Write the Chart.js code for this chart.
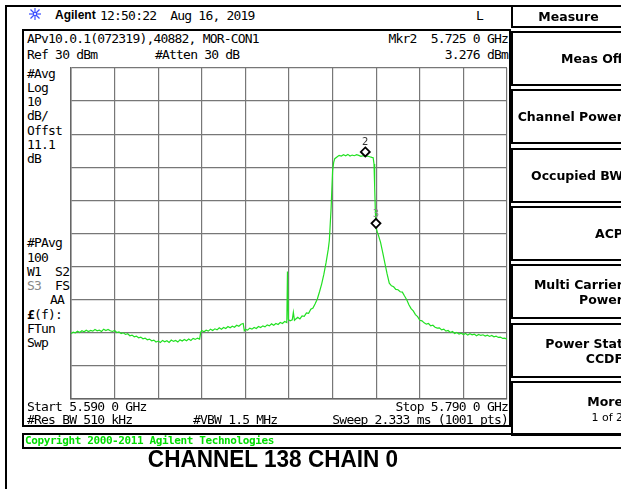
<!DOCTYPE html>
<html>
<head>
<meta charset="utf-8">
<script src="https://cdn.jsdelivr.net/npm/chart.js@4.4.0/dist/chart.umd.min.js"></script>
<style>
html, body { margin: 0; padding: 0; background: #fff; }
body { width: 621px; height: 489px; position: relative; overflow: hidden; }
.t { position: absolute; font-family: "DejaVu Sans Mono", monospace; font-size: 13px; letter-spacing: -0.8px;
     line-height: 14px; color: #000; white-space: pre; }
.r { text-align: right; }
.box { position: absolute; border: 2px solid #000; box-sizing: border-box; }
.key { position: absolute; left: 511px; width: 112px; text-align: right; font-family: "DejaVu Sans", sans-serif;
       font-weight: bold; font-size: 12.5px; line-height: 15px; white-space: pre; }
#plot { position: absolute; left: 69px; top: 66px; }
</style>
</head>
<body>

<!-- frame lines -->
<div style="position:absolute;left:5px;top:5px;width:2px;height:484px;background:#000"></div>
<div style="position:absolute;left:5px;top:5px;width:506px;height:2px;background:#000"></div>

<!-- header -->
<svg style="position:absolute;left:27px;top:7px" width="16" height="14" viewBox="0 0 16 14">
  <g stroke="#3a4dff" stroke-width="1.2">
    <line x1="8" y1="1" x2="8" y2="13"/><line x1="2" y1="7" x2="14" y2="7"/>
    <line x1="3.5" y1="2.5" x2="12.5" y2="11.5"/><line x1="12.5" y1="2.5" x2="3.5" y2="11.5"/>
  </g>
  <circle cx="8" cy="7" r="1.6" fill="#fff" stroke="#3a4dff"/>
</svg>
<div style="position:absolute;left:55px;top:8px;font:bold 12px 'Liberation Sans',Arial,sans-serif;line-height:14px">Agilent</div>
<div class="t" style="left:100px;top:9px">12:50:22  Aug 16, 2019</div>
<div class="t" style="left:476px;top:9px">L</div>

<!-- screen box -->
<div class="box" style="left:22px;top:29px;width:489px;height:398px"></div>
<div class="t" style="left:27px;top:32px">APv10.0.1(072319),40882, MOR-CON1</div>
<div class="t" style="left:27px;top:48px">Ref 30 dBm</div>
<div class="t" style="left:155px;top:48px">#Atten 30 dB</div>
<div class="t r" style="left:300px;width:208px;top:32px">Mkr2  5.725 0 GHz</div>
<div class="t r" style="left:300px;width:208px;top:48px">3.276 dBm</div>

<div class="t" style="left:27px;top:67px">#Avg</div>
<div class="t" style="left:27px;top:81px">Log</div>
<div class="t" style="left:27px;top:95px">10</div>
<div class="t" style="left:27px;top:109px">dB/</div>
<div class="t" style="left:27px;top:124px">Offst</div>
<div class="t" style="left:27px;top:138px">11.1</div>
<div class="t" style="left:27px;top:152px">dB</div>

<div class="t" style="left:27px;top:236px">#PAvg</div>
<div class="t" style="left:27px;top:251px">100</div>
<div class="t" style="left:27px;top:265px">W1  S2</div>
<div class="t" style="left:27px;top:279px"><span style="color:#888">S3</span>  FS</div>
<div class="t r" style="left:27px;width:37px;top:293px">AA</div>
<div class="t" style="left:27px;top:308px"><b>£</b>(f):</div>
<div class="t" style="left:27px;top:322px">FTun</div>
<div class="t" style="left:27px;top:336px">Swp</div>

<canvas id="plot" width="440" height="335"></canvas>

<div class="t" style="left:27px;top:400px">Start 5.590 0 GHz</div>
<div class="t r" style="left:300px;width:208px;top:400px">Stop 5.790 0 GHz</div>
<div class="t" style="left:27px;top:413px">#Res BW 510 kHz</div>
<div class="t" style="left:193px;top:413px">#VBW 1.5 MHz</div>
<div class="t r" style="left:300px;width:208px;top:413px">Sweep 2.333 ms (1001 pts)</div>

<!-- copyright bar -->
<div class="box" style="left:22px;top:433px;width:620px;height:16px"></div>
<div class="t" style="left:25px;top:434px;font-weight:bold;font-size:11px;letter-spacing:-0.4px;color:#00dd00">Copyright 2000-2011 Agilent Technologies</div>

<div style="position:absolute;left:0;width:546px;top:445px;text-align:center;font:bold 24px 'Liberation Sans',Arial,sans-serif;line-height:28px;transform:scaleX(0.94)">CHANNEL 138 CHAIN 0</div>

<!-- soft keys -->
<div class="box" style="left:511px;top:5px;width:120px;height:23px"></div>
<div class="key" style="text-align:center;width:115px;top:9px">Measure</div>
<div id="keys"></div>

<script>
// sweep settings
const startMHz = 5590;
const stopMHz = 5790;
const mhzPerDiv = 20;
const refLevel = 30;
const dbPerDiv = 10;
const divisions = 10;

// trace (MHz, dBm)
const freqMHz = [
  5590, 5591, 5592, 5593, 5594, 5595, 5596, 5597, 5598, 5599, 5600, 5601, 5602, 5603, 5604,
  5605, 5606, 5607, 5608, 5609, 5610, 5611, 5612, 5613, 5614, 5615, 5616, 5617, 5618, 5619,
  5620, 5621, 5622, 5623, 5624, 5625, 5626, 5627, 5628, 5629, 5630, 5631, 5632, 5633, 5634,
  5635, 5636, 5637, 5638, 5639, 5640, 5641, 5642, 5643, 5644, 5645, 5646, 5647, 5648, 5649,
  5649.5, 5650, 5651, 5652, 5653, 5654, 5655, 5656, 5657, 5658, 5659, 5660, 5661, 5662, 5663,
  5664, 5665, 5666, 5667, 5668, 5669,
  5669.5, 5670, 5671, 5672, 5673, 5674, 5675, 5676, 5677, 5678, 5679, 5680, 5681, 5682, 5683,
  5684, 5685, 5686, 5687, 5688, 5689,
  5689.3, 5689.7, 5690.5, 5691.5, 5692, 5692.5, 5693, 5694, 5695, 5696, 5697, 5698, 5699, 5700,
  5701, 5702, 5703, 5704, 5705, 5706, 5707, 5708, 5708.5, 5709.3, 5710, 5710.5, 5711,
  5712, 5713, 5714, 5715, 5716, 5717, 5718, 5719, 5720, 5721, 5722, 5723, 5724, 5725, 5726, 5727, 5728,
  5728.6, 5729, 5729.3, 5729.6, 5729.9,
  5730.5, 5731, 5732, 5733, 5734, 5735, 5736, 5737, 5738, 5739, 5740, 5741, 5742, 5743, 5744, 5745,
  5746, 5747, 5748, 5749, 5750, 5751,
  5752, 5753, 5754, 5755, 5756, 5757, 5758, 5759, 5760, 5761, 5762, 5763, 5764, 5765, 5766,
  5767, 5768, 5769, 5770, 5771, 5772, 5773, 5774, 5775, 5776, 5777, 5778, 5779, 5780, 5781,
  5782, 5783, 5784, 5785, 5786, 5787, 5788, 5789, 5790
];
const levelDbm = [
  -50.3, -49.8, -50.0, -49.5, -49.9, -49.4, -49.7, -49.2, -49.6, -49.3, -49.5, -49.0, -49.4, -49.2, -49.6,
  -48.9, -49.3, -49.0, -49.4, -49.6, -49.3, -49.9, -49.7, -50.2, -50.0, -50.5, -50.3, -50.9, -50.7, -51.2,
  -51.0, -51.5, -51.3, -51.8, -51.6, -52.1, -51.9, -52.4, -52.2, -52.8, -52.5, -52.9, -52.3, -52.7, -52.4,
  -52.9, -52.2, -52.6, -52.3, -52.8, -52.1, -52.5, -52.0, -52.4, -51.9, -52.3, -51.7, -52.0, -51.6, -51.9,
  -49.8, -49.3, -49.7, -49.2, -49.5, -48.9, -49.3, -48.8, -49.1, -48.5, -48.9, -48.4, -48.7, -48.1, -48.5,
  -48.0, -48.3, -47.7, -48.0, -47.4, -47.2,
  -49.4, -49.0, -49.2, -48.6, -48.9, -48.4, -48.7, -48.1, -48.4, -47.9, -48.2, -47.6, -47.9, -47.3, -47.7,
  -47.2, -47.5, -46.9, -47.2, -46.6, -46.9,
  -31.5, -46.0, -46.4, -46.1, -43.8, -46.2, -45.9, -45.3, -45.8, -44.9, -45.0, -44.0, -44.1, -42.9,
  -42.5, -41.2, -39.8, -37.6, -35.2, -32.3, -28.8, -24.8, -22.1, -12.5, -1.0, 1.5, 2.6,
  3.1, 3.6, 3.4, 3.8, 3.5, 3.9, 3.4, 3.7, 3.5, 3.8, 3.6, 3.3, 3.5, 3.28, 3.4, 3.2, 3.0,
  2.9, 1.0, -6.0, -13.0, -18.3,
  -19.6, -20.5, -22.7, -25.8, -29.0, -32.2, -35.0, -35.8, -36.1, -36.9, -37.0, -37.6, -37.7, -38.9, -40.0, -41.5,
  -42.7, -43.4, -44.5, -45.1, -46.2, -46.4,
  -47.0, -47.4, -47.2, -47.9, -47.7, -48.3, -48.6, -48.5, -49.1, -48.9, -49.5, -49.3, -49.9, -49.6, -50.2,
  -49.9, -50.4, -50.1, -50.5, -50.2, -50.7, -50.3, -50.6, -50.4, -50.9, -50.5, -50.8, -50.6, -51.0, -50.7,
  -51.1, -50.8, -51.2, -51.0, -51.4, -51.3, -51.7, -51.6, -52.0
];

// markers
const markerNames = ['2', '3'];
const markerFreq = [5725.0, 5729.9];
const markerLevel = [3.276, -18.3];
const markerTextColor = ['#333', '#888'];

// soft key menu
const softKeys = [
  ['Meas Off'],
  ['Channel Power'],
  ['Occupied BW'],
  ['ACP'],
  ['Multi Carrier', 'Power'],
  ['Power Stat', 'CCDF'],
  ['More', '1 of 2']
];

const keysEl = document.getElementById('keys');
softKeys.forEach((lines, i) => {
  const top = 31 + i * 58.3;
  const box = document.createElement('div');
  box.className = 'box';
  Object.assign(box.style, { left: '511px', top: top + 'px', width: '120px', height: '55px' });
  keysEl.appendChild(box);

  const lbl = document.createElement('div');
  lbl.className = 'key';
  const textTop = lines.length === 1 ? top + 20 : top + 13;
  lbl.style.top = textTop + 'px';
  if (lines[0] === 'More') {
    lbl.innerHTML = 'More<br><span style="font-weight:normal;font-size:11px">1 of 2</span>';
  } else {
    lbl.innerHTML = lines.join('<br>');
  }
  keysEl.appendChild(lbl);
});

// diamond marker with its number, bottom tip sitting on the trace
const markerPlugin = {
  id: 'mkrs',
  afterDatasetsDraw(chart) {
    const { ctx, scales: { x, y } } = chart;
    ctx.save();
    markerFreq.forEach((f, i) => {
      const px = x.getPixelForValue(f);
      const py = y.getPixelForValue(markerLevel[i]);
      const r = 4.5;
      const cy = py - r;
      ctx.beginPath();
      ctx.moveTo(px, cy - r);
      ctx.lineTo(px + r, cy);
      ctx.lineTo(px, cy + r);
      ctx.lineTo(px - r, cy);
      ctx.closePath();
      ctx.fillStyle = '#fff';
      ctx.fill();
      ctx.lineWidth = 1.8;
      ctx.strokeStyle = '#000';
      ctx.stroke();
      ctx.fillStyle = markerTextColor[i];
      ctx.font = '10px "DejaVu Sans"';
      ctx.textAlign = 'center';
      ctx.textBaseline = 'alphabetic';
      ctx.fillText(markerNames[i], px, cy - r - 2);
    });
    ctx.restore();
  }
};

const ctx = document.getElementById('plot').getContext('2d');
new Chart(ctx, {
  type: 'line',
  data: {
    datasets: [{
      data: freqMHz.map((f, i) => ({ x: f, y: levelDbm[i] })),
      borderColor: '#22e022',
      borderWidth: 1.2,
      pointRadius: 0,
      tension: 0
    }]
  },
  options: {
    responsive: false,
    animation: false,
    layout: { padding: 2 },
    plugins: { legend: { display: false }, tooltip: { enabled: false } },
    scales: {
      x: {
        type: 'linear',
        min: startMHz,
        max: stopMHz,
        ticks: { display: false, stepSize: mhzPerDiv },
        grid: { color: '#777', lineWidth: 1.2, drawTicks: false },
        border: { color: '#666', width: 1.5 }
      },
      y: {
        min: refLevel - dbPerDiv * divisions,
        max: refLevel,
        ticks: { display: false, stepSize: dbPerDiv },
        grid: { color: '#777', lineWidth: 1.2, drawTicks: false },
        border: { color: '#666', width: 1.5 }
      }
    }
  },
  plugins: [markerPlugin]
});
</script>
</body>
</html>
